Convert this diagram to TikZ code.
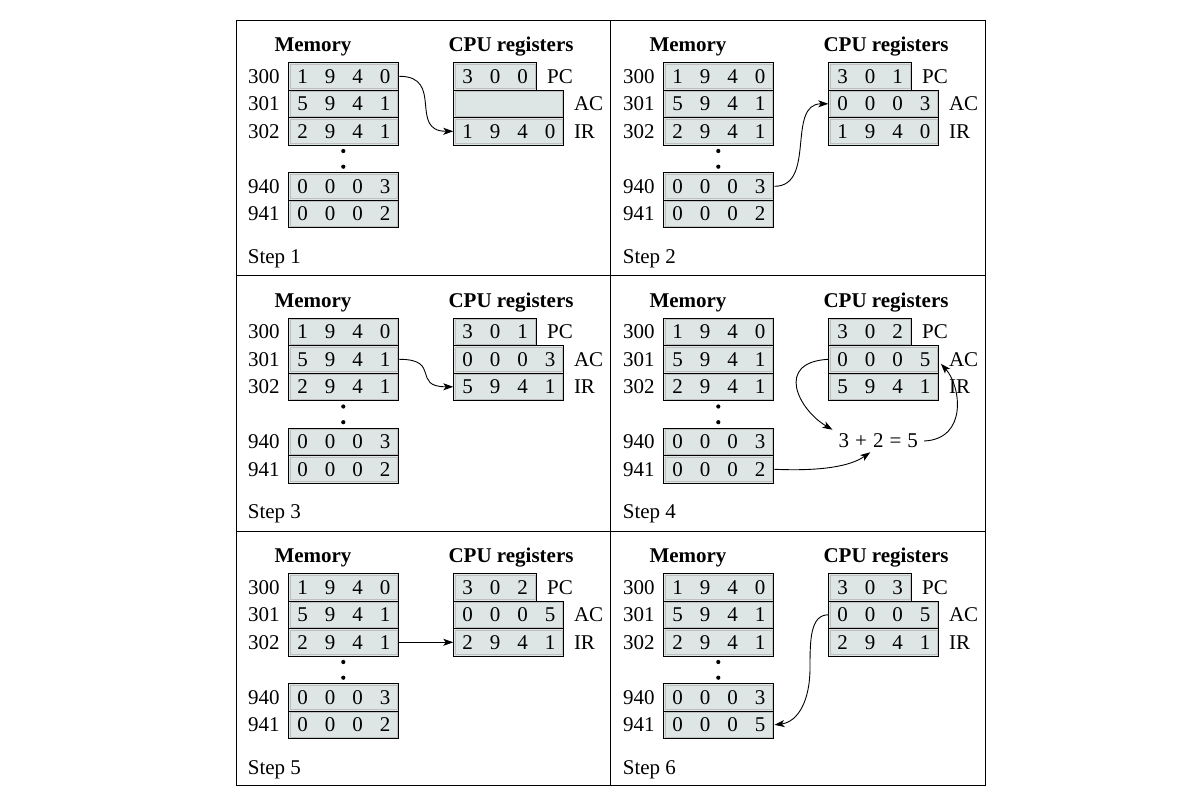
\documentclass[tikz,border=0pt]{standalone}
\usepackage{fontspec}
\setmainfont{Liberation Serif}
\usetikzlibrary{arrows.meta}
\definecolor{cellfill}{RGB}{221,230,228}
\newcommand\dg[1]{\makebox[27.5pt]{#1}}
\tikzset{
  rowbox/.style={draw=black, line width=1.1pt, fill=cellfill, inner sep=0pt,
    minimum height=27.5pt, anchor=north west, font=\fontsize{21}{25}\selectfont,
    path picture={\draw[black!25, line width=0.45pt]
      ([shift={(1.6pt,-1.6pt)}]path picture bounding box.north west) rectangle
      ([shift={(-1.6pt,1.6pt)}]path picture bounding box.south east);}},
  txt/.style={inner sep=0pt, font=\fontsize{21}{25}\selectfont},
  ttl/.style={inner sep=0pt, font=\fontsize{21}{25}\selectfont\bfseries, anchor=base},
  conn/.style={line width=0.9pt, -{Stealth[length=10pt,width=7pt,inset=2.5pt]}},
  memdot/.style={circle, fill=black, inner sep=0pt, minimum size=4.2pt},
  framestyle/.style={line width=0.9pt}
}
\newcommand\stepcell[8]{%
  \begin{scope}[shift={(#2,#3)}]
    \node[ttl] (#1memt) at (77,31.7) {Memory};
    \node[ttl] (#1cput) at (275,31.7) {CPU registers};
    \node[rowbox, minimum width=110pt] (#1m300) at (52.3,42) {\dg1\dg9\dg4\dg0};
    \node[rowbox, minimum width=110pt] (#1m301) at (52.3,69.5) {\dg5\dg9\dg4\dg1};
    \node[rowbox, minimum width=110pt] (#1m302) at (52.3,97) {\dg2\dg9\dg4\dg1};
    \node[memdot] (#1d1) at (107.3,131) {};
    \node[memdot] (#1d2) at (107.3,146.7) {};
    \node[rowbox, minimum width=110pt] (#1m940) at (52.3,152) {\dg0\dg0\dg0\dg3};
    \node[rowbox, minimum width=110pt] (#1m941) at (52.3,179.5) {#8};
    \node[txt, anchor=east] (#1a300) at ([xshift=-8.5pt]#1m300.west) {300};
    \node[txt, anchor=east] (#1a301) at ([xshift=-8.5pt]#1m301.west) {301};
    \node[txt, anchor=east] (#1a302) at ([xshift=-8.5pt]#1m302.west) {302};
    \node[txt, anchor=east] (#1a940) at ([xshift=-8.5pt]#1m940.west) {940};
    \node[txt, anchor=east] (#1a941) at ([xshift=-8.5pt]#1m941.west) {941};
    \node[rowbox, minimum width=82.5pt] (#1pc) at (217.3,42) {#5};
    \node[rowbox, minimum width=110pt] (#1ac) at (217.3,69.5) {#6};
    \node[rowbox, minimum width=110pt] (#1ir) at (217.3,97) {#7};
    \node[txt, anchor=west] (#1pcl) at ([xshift=10pt]#1pc.east) {PC};
    \node[txt, anchor=west] (#1acl) at ([xshift=9.4pt]#1ac.east) {AC};
    \node[txt, anchor=west] (#1irl) at ([xshift=9.4pt]#1ir.east) {IR};
    \node[txt, anchor=base west] (#1lab) at (11.7,243.3) {Step #4};
  \end{scope}}
\begin{document}
\begin{tikzpicture}[x=1pt, y=-1pt]
  \useasboundingbox (0,0) rectangle (1200,803);
  \fill[white] (0,0) rectangle (1200,803);
  % frame
  \draw[framestyle] (236,20) rectangle (985.7,785.7);
  \draw[framestyle] (610.7,20) -- (610.7,785.7);
  \draw[framestyle] (236,275.7) -- (985.7,275.7);
  \draw[framestyle] (236,531) -- (985.7,531);
  % cells
  \stepcell{s1}{236}{20}{1}{\dg3\dg0\dg0}{}{\dg1\dg9\dg4\dg0}{\dg0\dg0\dg0\dg2}
  \stepcell{s2}{611}{20}{2}{\dg3\dg0\dg1}{\dg0\dg0\dg0\dg3}{\dg1\dg9\dg4\dg0}{\dg0\dg0\dg0\dg2}
  \stepcell{s3}{236}{275.5}{3}{\dg3\dg0\dg1}{\dg0\dg0\dg0\dg3}{\dg5\dg9\dg4\dg1}{\dg0\dg0\dg0\dg2}
  \stepcell{s4}{611}{275.5}{4}{\dg3\dg0\dg2}{\dg0\dg0\dg0\dg5}{\dg5\dg9\dg4\dg1}{\dg0\dg0\dg0\dg2}
  \stepcell{s5}{236}{531}{5}{\dg3\dg0\dg2}{\dg0\dg0\dg0\dg5}{\dg2\dg9\dg4\dg1}{\dg0\dg0\dg0\dg2}
  \stepcell{s6}{611}{531}{6}{\dg3\dg0\dg3}{\dg0\dg0\dg0\dg5}{\dg2\dg9\dg4\dg1}{\dg0\dg0\dg0\dg5}
  % step 1
  \draw[conn] (s1m300.east) .. controls +(45,0) and +(-45,0) .. (s1ir.west);
  % step 2
  \draw[conn] (s2m940.east) .. controls +(42,0) and +(-42,0) .. (s2ac.west);
  % step 3
  \draw[conn] (s3m301.east) .. controls +(42,0) and +(-42,0) .. (s3ir.west);
  % step 4
  \node[txt, inner xsep=6pt, inner ysep=4pt] (s4sum) at (878.3,441)
    {3\hspace{6pt}+\hspace{6pt}2\hspace{6pt}=\hspace{6pt}5};
  \draw[conn] (s4ac.west) .. controls +(-54,3) and +(-34,-20) .. (s4sum.north west);
  \draw[conn] (s4m941.east) .. controls +(47,2) and +(-20,14) .. ([xshift=-8pt]s4sum.south);
  \draw[conn] (s4sum.east) .. controls +(44,-2) and +(20,22) .. ([xshift=1.5pt,yshift=-4.5pt]s4ac.east);
  % step 5
  \draw[conn] (s5m302.east) -- (s5ir.west);
  % step 6
  \coordinate (s6mid) at (810,668);
  \draw[conn] (s6ac.west) .. controls +(-18,0) and +(0,-28) .. (s6mid)
    .. controls +(0,32) and +(24,-3) .. (s6m941.east);
\end{tikzpicture}
\end{document}
